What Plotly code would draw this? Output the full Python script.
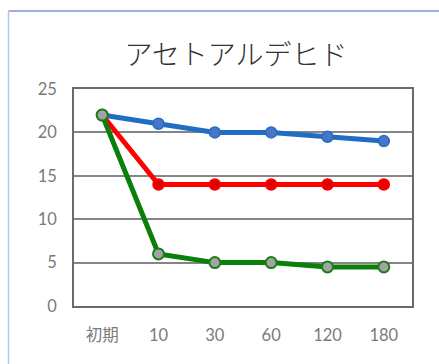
import plotly.graph_objects as go

# Acetaldehyde concentration over time (minutes)
categories = ["初期", "10", "30", "60", "120", "180"]
series_blue = [22, 21, 20, 20, 19.5, 19]
series_red = [22, 14, 14, 14, 14, 14]
series_green = [22, 6, 5, 5, 4.5, 4.5]

W, H = 439, 364
ML, MR, MT, MB = 74, 27, 89, 58
PW, PH = W - ML - MR, H - MT - MB


def px_x(px):
    return (px - ML) / PW


def px_y(py):
    return (H - MB - py) / PH


fig = go.Figure()

fig.add_trace(go.Scatter(
    x=categories, y=series_blue, mode="lines+markers",
    line=dict(color="#1f6ec4", width=5),
    marker=dict(size=11, color="#4676c8", line=dict(color="#2a6cc0", width=1.5)),
    showlegend=False,
))
fig.add_trace(go.Scatter(
    x=categories, y=series_red, mode="lines+markers",
    line=dict(color="#ff0000", width=5),
    marker=dict(size=11, color="#e50000", line=dict(color="#ff0000", width=1.5)),
    showlegend=False,
))
fig.add_trace(go.Scatter(
    x=categories, y=series_green, mode="lines+markers",
    line=dict(color="#0a800a", width=5),
    marker=dict(size=11, color="#a3a3a3", line=dict(color="#1a7f1a", width=2)),
    showlegend=False,
))

tick_font = dict(family="Lato, 'Noto Sans CJK JP', sans-serif", size=16.5, color="#7a7a7a")

fig.update_xaxes(
    type="category", range=[-0.5, 5.5],
    showgrid=False, zeroline=False,
    showline=True, linecolor="#6a6a6a", linewidth=1.5, mirror=True,
    ticks="", tickfont=tick_font, ticklabelstandoff=13,
)
fig.update_yaxes(
    range=[0, 25], dtick=5,
    showgrid=True, gridcolor="#858585", gridwidth=1.5,
    zeroline=False,
    showline=True, linecolor="#6a6a6a", linewidth=1.5, mirror=True,
    ticks="", tickfont=tick_font, ticklabelstandoff=12,
)

# outer frame edges of the chart area
fig.add_shape(type="line", xref="paper", yref="paper",
              x0=px_x(8.5), x1=px_x(W + 5), y0=px_y(11), y1=px_y(11),
              line=dict(color="#7f90dc", width=1.5))
fig.add_shape(type="line", xref="paper", yref="paper",
              x0=px_x(8.5), x1=px_x(8.5), y0=px_y(11), y1=px_y(H + 5),
              line=dict(color="#b3c8e6", width=1.5))

fig.update_layout(
    width=W, height=H,
    margin=dict(l=ML, r=MR, t=MT, b=MB),
    paper_bgcolor="white", plot_bgcolor="white",
    title=dict(
        text="アセトアルデヒド",
        font=dict(family="'Noto Sans CJK JP', sans-serif", size=28, color="#333333", weight=300),
        x=236 / W, xanchor="center",
        y=1 - 55 / H, yanchor="middle",
    ),
)

fig.write_html("out.html")
